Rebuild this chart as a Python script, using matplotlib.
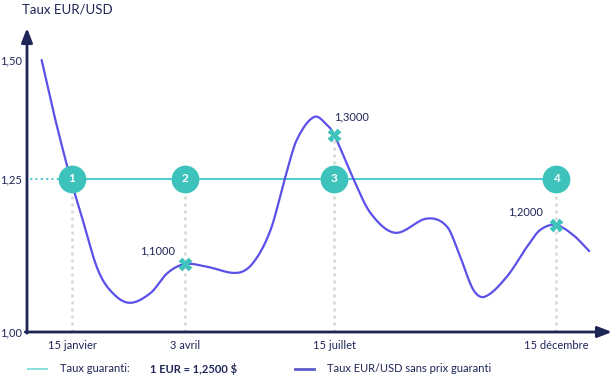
import numpy as np
import matplotlib

matplotlib.use("Agg")
import matplotlib.pyplot as plt
from matplotlib.lines import Line2D

plt.rcParams["font.family"] = ["Lato", "DejaVu Sans"]

# --- data --------------------------------------------------------------------
# x is the day of the year, y is the EUR/USD rate
curve_days = [-6, 3, 14, 21, 32, 41, 54, 69, 81, 93, 108, 129, 140, 152, 162, 170,
              182, 191, 196, 209, 221, 238, 260, 274, 283, 292, 300, 315, 329, 338,
              349, 361, 372]
curve_rates = [1.500, 1.348, 1.250, 1.213, 1.096, 1.062, 1.043, 1.057, 1.087, 1.100,
               1.096, 1.087, 1.103, 1.187, 1.251, 1.294, 1.348, 1.327, 1.300, 1.251,
               1.213, 1.180, 1.207, 1.195, 1.118, 1.062, 1.052, 1.081, 1.144, 1.187,
               1.200, 1.174, 1.133]

guaranteed_rate = 1.25
event_days = [15, 93, 196, 349]
event_labels = ["15 janvier", "3 avril", "15 juillet", "15 décembre"]
event_numbers = ["1", "2", "3", "4"]

spot_days = [93, 196, 349]
spot_rates = [1.10, 1.30, 1.20]
spot_labels = ["1,1000", "1,3000", "1,2000"]

ytick_values = [1.00, 1.25, 1.50]
ytick_labels = ["1,00", "1,25", "1,50"]

NAVY = "#1F2557"
PURPLE = "#5B50E8"
TEAL = "#2EC4CC"
CIRCLE = "#3EC2BC"
GRID = "#D6D6D6"

# the drawing is not to scale: piecewise scale through the labelled levels
scale_rates = [0.5, 1.00, 1.10, 1.20, 1.25, 1.30, 1.50, 2.0]
scale_pos = [-340.0, 0.0, 68.0, 107.0, 153.0, 197.0, 272.0, 459.5]


def fwd(r):
    return np.interp(r, scale_rates, scale_pos)


def inv(h):
    return np.interp(h, scale_pos, scale_rates)


def smooth_line(xs, ys, n=20):
    # cubic Hermite through the read points (screen space), for drawing only
    x = np.asarray(xs, float)
    y = np.asarray(ys, float)
    m = np.empty_like(y)
    m[1:-1] = (y[2:] - y[:-2]) / (x[2:] - x[:-2])
    m[0] = (y[1] - y[0]) / (x[1] - x[0])
    m[-1] = (y[-1] - y[-2]) / (x[-1] - x[-2])
    ox, oy = [], []
    for i in range(len(x) - 1):
        h = x[i + 1] - x[i]
        t = np.linspace(0, 1, n, endpoint=False)
        h00 = 2 * t ** 3 - 3 * t ** 2 + 1
        h10 = t ** 3 - 2 * t ** 2 + t
        h01 = -2 * t ** 3 + 3 * t ** 2
        h11 = t ** 3 - t ** 2
        ox.append(x[i] + t * h)
        oy.append(h00 * y[i] + h10 * h * m[i] + h01 * y[i + 1] + h11 * h * m[i + 1])
    ox.append([x[-1]])
    oy.append([y[-1]])
    return np.concatenate(ox), np.concatenate(oy)


fig = plt.figure(figsize=(6.13, 3.75), dpi=100)
W, H = 613, 375
ax = fig.add_axes([27 / W, (H - 332) / H, (612 - 27) / W, (332 - 28) / H])
ax.set_yscale("function", functions=(fwd, inv))
ax.set_xlim(-16.1, 387.7)
ax.set_ylim(1.00, inv(304))
ax.patch.set_alpha(0)

for s in ax.spines.values():
    s.set_visible(False)

# axes with arrow heads
arrow = dict(arrowstyle="-|>,head_length=0.85,head_width=0.33", color=NAVY, lw=2.0,
             shrinkA=0, shrinkB=0)
ax.annotate("", xy=(0, 1), xytext=(0, -0.004), xycoords="axes fraction", arrowprops=arrow)
ax.annotate("", xy=(1, 0), xytext=(-0.003, 0), xycoords="axes fraction", arrowprops=arrow)

ax.set_yticks(ytick_values, ytick_labels)
ax.set_xticks(event_days, event_labels)
ax.yaxis.set_minor_locator(matplotlib.ticker.NullLocator())
ax.tick_params(axis="both", length=0, colors=NAVY, labelsize=8)
ax.tick_params(axis="y", pad=3.5)
ax.tick_params(axis="x", pad=6)

# vertical dotted guides
for d in event_days:
    top = guaranteed_rate
    if d in spot_days:
        top = max(top, spot_rates[spot_days.index(d)])
    ax.plot([d, d], [1.0, top], color=GRID, lw=1.8, ls=(0, (1.2, 1.6)), zorder=1)

# guaranteed rate line
ax.plot([-14, event_days[0]], [guaranteed_rate] * 2, color=TEAL, lw=1.1,
        ls=(0, (1.5, 2.0)), zorder=2)
ax.plot([event_days[0], event_days[-1]], [guaranteed_rate] * 2, color=TEAL, lw=1.2, zorder=2)

# EUR/USD curve
sx, sh = smooth_line(curve_days, fwd(np.array(curve_rates)))
ax.plot(sx, inv(sh), color=PURPLE, lw=1.6, zorder=3, solid_capstyle="round")

# numbered circles
for d, num in zip(event_days, event_numbers):
    ax.plot(d, guaranteed_rate, "o", ms=20, color=CIRCLE, mec="none", zorder=5)
    ax.text(d, guaranteed_rate, num, color="white", fontsize=8.5, fontweight="bold",
            ha="center", va="center", zorder=6)

# spot markers and their values
ax.plot(spot_days, spot_rates, "X", ms=10, color=CIRCLE, mec="none", zorder=6)
offsets = [(-10, 13, "right"), (0, 18, "left"), (-13, 13, "right")]
for d, r, lab, (dx, dy, ha) in zip(spot_days, spot_rates, spot_labels, offsets):
    ax.annotate(lab, (d, r), xytext=(dx * 0.72, dy * 0.72), textcoords="offset points",
                ha=ha, va="center", fontsize=8, color=NAVY, zorder=7)

fig.text(22 / W, 1 - 9 / H, "Taux EUR/USD", fontsize=9.5, color=NAVY, ha="left", va="center")

# legend, drawn by hand to sit like the original
ly = 1 - 369 / H
fig.add_artist(Line2D([28 / W, 47 / W], [ly, ly], color="#7FDDD6", lw=1.3))
fig.text(60 / W, ly, "Taux guaranti:", fontsize=8, color=NAVY, va="center")
fig.text(150 / W, ly, "1 EUR = 1,2500 $", fontsize=8, color=NAVY, va="center",
         fontweight="bold")
fig.add_artist(Line2D([295 / W, 314 / W], [ly, ly], color="#5A5BC8", lw=2.0))
fig.text(327 / W, ly, "Taux EUR/USD sans prix guaranti", fontsize=8, color=NAVY,
         va="center")

fig.savefig("out.png", dpi=100)
